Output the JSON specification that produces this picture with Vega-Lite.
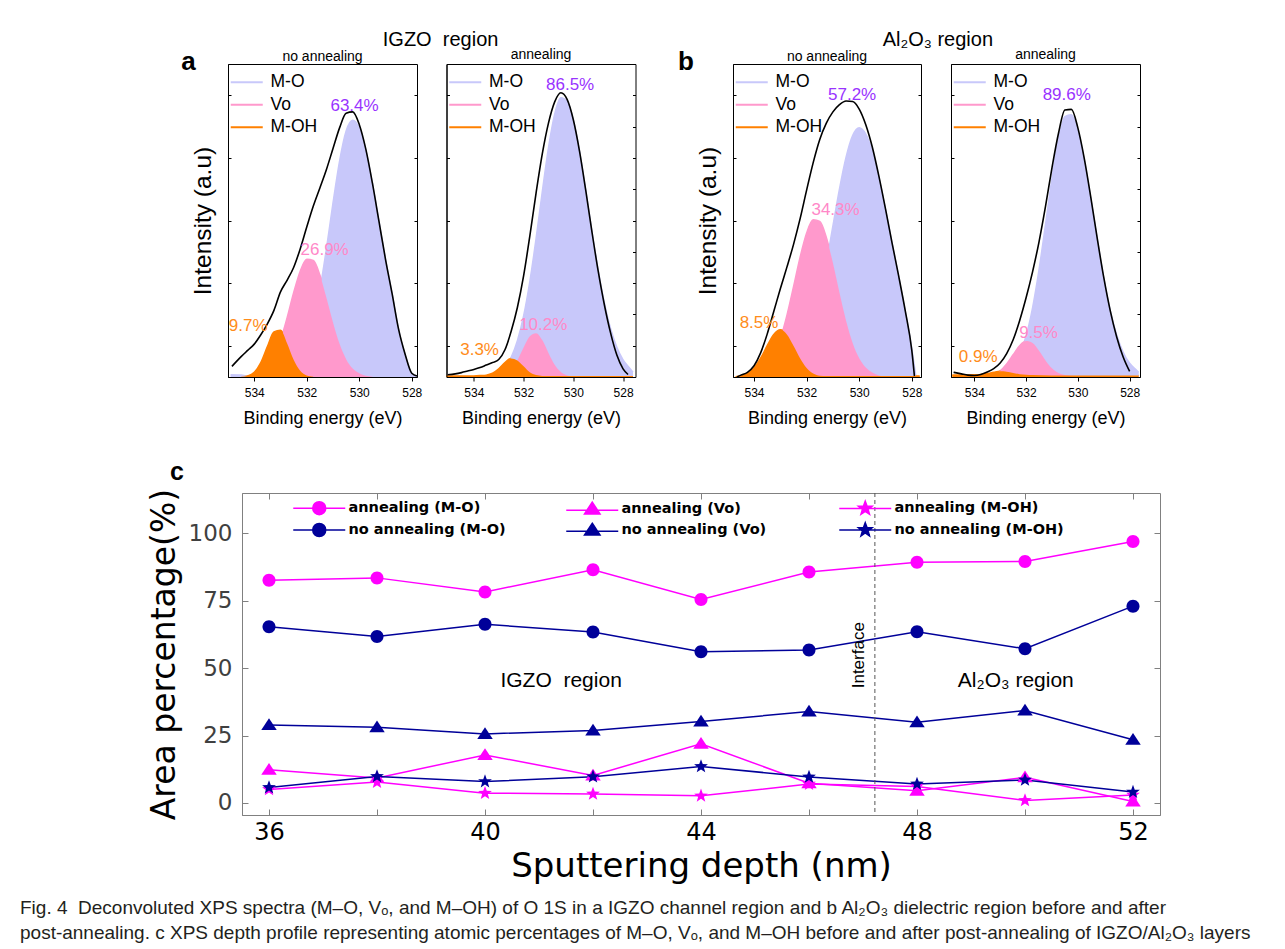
{
"$schema": "https://vega.github.io/schema/vega-lite/v6.json",
"background": "white",
"padding": {"left": 20, "top": 29, "right": 5, "bottom": 5},
"config": {"font": "Liberation Sans", "view": {"stroke": "black", "strokeWidth": 1}, "axis": {"grid": false, "labelFlush": false, "labelOverlap": false}, "title": {"font": "Liberation Sans", "fontWeight": "normal", "color": "black"}, "legend": {"labelColor": "black"}},
"datasets": {
"spec": [
{"p":"a1","c":"M-O","e":534.9,"i":0.7},{"p":"a1","c":"M-O","e":534.5,"i":0.6},{"p":"a1","c":"M-O","e":534.25,"i":0.3},{"p":"a1","c":"M-O","e":534,"i":0.1},{"p":"a1","c":"M-O","e":533.75,"i":0.05},{"p":"a1","c":"M-O","e":533.5,"i":0.1},{"p":"a1","c":"M-O","e":533,"i":0.4},{"p":"a1","c":"M-O","e":532.75,"i":1.1},{"p":"a1","c":"M-O","e":532.5,"i":2.5},{"p":"a1","c":"M-O","e":532.25,"i":5.1},{"p":"a1","c":"M-O","e":532,"i":9.8},{"p":"a1","c":"M-O","e":531.75,"i":17.3},{"p":"a1","c":"M-O","e":531.5,"i":27.8},{"p":"a1","c":"M-O","e":531.25,"i":41},{"p":"a1","c":"M-O","e":531,"i":55.6},{"p":"a1","c":"M-O","e":530.75,"i":69},{"p":"a1","c":"M-O","e":530.5,"i":78.6},{"p":"a1","c":"M-O","e":530.25,"i":82},{"p":"a1","c":"M-O","e":530,"i":79.5},{"p":"a1","c":"M-O","e":529.75,"i":72.4},{"p":"a1","c":"M-O","e":529.5,"i":61.9},{"p":"a1","c":"M-O","e":529.25,"i":49.7},{"p":"a1","c":"M-O","e":529,"i":37.5},{"p":"a1","c":"M-O","e":528.75,"i":26.6},{"p":"a1","c":"M-O","e":528.5,"i":15},{"p":"a1","c":"M-O","e":528.25,"i":7},{"p":"a1","c":"M-O","e":528,"i":1},{"p":"a1","c":"M-O","e":527.8,"i":0.3},
{"p":"a1","c":"Vo","e":534.25,"i":0.2},{"p":"a1","c":"Vo","e":534,"i":0.5},{"p":"a1","c":"Vo","e":533.75,"i":1.4},{"p":"a1","c":"Vo","e":533.5,"i":3.2},{"p":"a1","c":"Vo","e":533.25,"i":6.6},{"p":"a1","c":"Vo","e":533,"i":11.8},{"p":"a1","c":"Vo","e":532.75,"i":18.9},{"p":"a1","c":"Vo","e":532.5,"i":26.9},{"p":"a1","c":"Vo","e":532.25,"i":33.8},{"p":"a1","c":"Vo","e":532,"i":37.6},{"p":"a1","c":"Vo","e":531.75,"i":37.2},{"p":"a1","c":"Vo","e":531.5,"i":32.6},{"p":"a1","c":"Vo","e":531.25,"i":25.3},{"p":"a1","c":"Vo","e":531,"i":17.4},{"p":"a1","c":"Vo","e":530.75,"i":10.6},{"p":"a1","c":"Vo","e":530.5,"i":5.7},{"p":"a1","c":"Vo","e":530.25,"i":2.7},{"p":"a1","c":"Vo","e":530,"i":1.2},{"p":"a1","c":"Vo","e":529.75,"i":0.4},{"p":"a1","c":"Vo","e":529.5,"i":0.1},
{"p":"a1","c":"M-OH","e":534.5,"i":0.06},{"p":"a1","c":"M-OH","e":534.25,"i":0.36},{"p":"a1","c":"M-OH","e":534,"i":1.5},{"p":"a1","c":"M-OH","e":533.75,"i":4.6},{"p":"a1","c":"M-OH","e":533.5,"i":9.7},{"p":"a1","c":"M-OH","e":533.25,"i":14.4},{"p":"a1","c":"M-OH","e":533,"i":14.9},{"p":"a1","c":"M-OH","e":532.75,"i":10.8},{"p":"a1","c":"M-OH","e":532.5,"i":5.5},{"p":"a1","c":"M-OH","e":532.25,"i":2},{"p":"a1","c":"M-OH","e":532,"i":0.5},{"p":"a1","c":"M-OH","e":531.75,"i":0.1},
{"p":"a1","c":"env","e":534.85,"i":3.4},{"p":"a1","c":"env","e":534.5,"i":6.5},{"p":"a1","c":"env","e":534.25,"i":8.5},{"p":"a1","c":"env","e":534,"i":10.5},{"p":"a1","c":"env","e":533.75,"i":13.5},{"p":"a1","c":"env","e":533.5,"i":17},{"p":"a1","c":"env","e":533.25,"i":21.3},{"p":"a1","c":"env","e":533,"i":27.2},{"p":"a1","c":"env","e":532.75,"i":30.9},{"p":"a1","c":"env","e":532.5,"i":35},{"p":"a1","c":"env","e":532.25,"i":40.9},{"p":"a1","c":"env","e":532,"i":47.9},{"p":"a1","c":"env","e":531.75,"i":54.6},{"p":"a1","c":"env","e":531.5,"i":60.4},{"p":"a1","c":"env","e":531.25,"i":66.3},{"p":"a1","c":"env","e":531,"i":73},{"p":"a1","c":"env","e":530.75,"i":79.6},{"p":"a1","c":"env","e":530.5,"i":84.3},{"p":"a1","c":"env","e":530.25,"i":84.7},{"p":"a1","c":"env","e":530,"i":80.7},{"p":"a1","c":"env","e":529.75,"i":72.8},{"p":"a1","c":"env","e":529.5,"i":62},{"p":"a1","c":"env","e":529.25,"i":49.8},{"p":"a1","c":"env","e":529,"i":37.6},{"p":"a1","c":"env","e":528.75,"i":26.7},{"p":"a1","c":"env","e":528.5,"i":15.2},{"p":"a1","c":"env","e":528.25,"i":7.2},{"p":"a1","c":"env","e":528,"i":1.2},{"p":"a1","c":"env","e":527.8,"i":0.3},
{"p":"a2","c":"M-O","e":534,"i":0.05},{"p":"a2","c":"M-O","e":533.5,"i":0.3},{"p":"a2","c":"M-O","e":533,"i":1.5},{"p":"a2","c":"M-O","e":532.75,"i":3.2},{"p":"a2","c":"M-O","e":532.5,"i":6.3},{"p":"a2","c":"M-O","e":532.25,"i":11.6},{"p":"a2","c":"M-O","e":532,"i":19.5},{"p":"a2","c":"M-O","e":531.75,"i":30.5},{"p":"a2","c":"M-O","e":531.5,"i":44.1},{"p":"a2","c":"M-O","e":531.25,"i":59.1},{"p":"a2","c":"M-O","e":531,"i":73.2},{"p":"a2","c":"M-O","e":530.75,"i":84},{"p":"a2","c":"M-O","e":530.5,"i":89.2},{"p":"a2","c":"M-O","e":530.25,"i":88.1},{"p":"a2","c":"M-O","e":530,"i":82},{"p":"a2","c":"M-O","e":529.75,"i":72},{"p":"a2","c":"M-O","e":529.5,"i":59.5},{"p":"a2","c":"M-O","e":529.25,"i":46.4},{"p":"a2","c":"M-O","e":529,"i":34.1},{"p":"a2","c":"M-O","e":528.75,"i":23.7},{"p":"a2","c":"M-O","e":528.5,"i":15.4},{"p":"a2","c":"M-O","e":528.25,"i":9.5},{"p":"a2","c":"M-O","e":528,"i":5.5},{"p":"a2","c":"M-O","e":527.75,"i":3},{"p":"a2","c":"M-O","e":527.6,"i":1.5},
{"p":"a2","c":"Vo","e":533,"i":0.2},{"p":"a2","c":"Vo","e":532.75,"i":0.8},{"p":"a2","c":"Vo","e":532.5,"i":2.3},{"p":"a2","c":"Vo","e":532.25,"i":5.3},{"p":"a2","c":"Vo","e":532,"i":9.4},{"p":"a2","c":"Vo","e":531.75,"i":13},{"p":"a2","c":"Vo","e":531.5,"i":14},{"p":"a2","c":"Vo","e":531.25,"i":11.8},{"p":"a2","c":"Vo","e":531,"i":7.7},{"p":"a2","c":"Vo","e":530.75,"i":3.9},{"p":"a2","c":"Vo","e":530.5,"i":1.6},{"p":"a2","c":"Vo","e":530.25,"i":0.5},{"p":"a2","c":"Vo","e":530,"i":0.1},
{"p":"a2","c":"M-OH","e":535.1,"i":0.3},{"p":"a2","c":"M-OH","e":534.5,"i":0.3},{"p":"a2","c":"M-OH","e":534,"i":0.35},{"p":"a2","c":"M-OH","e":533.75,"i":0.45},{"p":"a2","c":"M-OH","e":533.5,"i":0.6},{"p":"a2","c":"M-OH","e":533.25,"i":1.2},{"p":"a2","c":"M-OH","e":533,"i":2.6},{"p":"a2","c":"M-OH","e":532.75,"i":4.6},{"p":"a2","c":"M-OH","e":532.5,"i":5.95},{"p":"a2","c":"M-OH","e":532.25,"i":5.3},{"p":"a2","c":"M-OH","e":532,"i":3.4},{"p":"a2","c":"M-OH","e":531.75,"i":1.5},{"p":"a2","c":"M-OH","e":531.5,"i":0.6},{"p":"a2","c":"M-OH","e":531.25,"i":0.35},{"p":"a2","c":"M-OH","e":531,"i":0.3},{"p":"a2","c":"M-OH","e":530,"i":0.3},{"p":"a2","c":"M-OH","e":529,"i":0.3},{"p":"a2","c":"M-OH","e":528,"i":0.3},{"p":"a2","c":"M-OH","e":527.6,"i":0.3},
{"p":"a2","c":"env","e":535.05,"i":0.7},{"p":"a2","c":"env","e":534.75,"i":1},{"p":"a2","c":"env","e":534.5,"i":1.4},{"p":"a2","c":"env","e":534.25,"i":1.9},{"p":"a2","c":"env","e":534,"i":2.4},{"p":"a2","c":"env","e":533.75,"i":3},{"p":"a2","c":"env","e":533.5,"i":3.8},{"p":"a2","c":"env","e":533.25,"i":4.6},{"p":"a2","c":"env","e":533,"i":5.6},{"p":"a2","c":"env","e":532.75,"i":8.7},{"p":"a2","c":"env","e":532.5,"i":14.6},{"p":"a2","c":"env","e":532.25,"i":22.2},{"p":"a2","c":"env","e":532,"i":32.3},{"p":"a2","c":"env","e":531.75,"i":45},{"p":"a2","c":"env","e":531.5,"i":58.7},{"p":"a2","c":"env","e":531.25,"i":71.2},{"p":"a2","c":"env","e":531,"i":81.1},{"p":"a2","c":"env","e":530.75,"i":87.9},{"p":"a2","c":"env","e":530.5,"i":90.8},{"p":"a2","c":"env","e":530.25,"i":88.7},{"p":"a2","c":"env","e":530,"i":82.2},{"p":"a2","c":"env","e":529.75,"i":72.1},{"p":"a2","c":"env","e":529.5,"i":59.6},{"p":"a2","c":"env","e":529.25,"i":46.3},{"p":"a2","c":"env","e":529,"i":33.8},{"p":"a2","c":"env","e":528.75,"i":23},{"p":"a2","c":"env","e":528.5,"i":14},{"p":"a2","c":"env","e":528.25,"i":7},{"p":"a2","c":"env","e":528,"i":2.6},{"p":"a2","c":"env","e":527.8,"i":0.8},
{"p":"b1","c":"M-O","e":533.75,"i":0.05},{"p":"b1","c":"M-O","e":533.5,"i":0.2},{"p":"b1","c":"M-O","e":533,"i":0.9},{"p":"b1","c":"M-O","e":532.75,"i":1.8},{"p":"b1","c":"M-O","e":532.5,"i":3.5},{"p":"b1","c":"M-O","e":532.25,"i":6.3},{"p":"b1","c":"M-O","e":532,"i":10.8},{"p":"b1","c":"M-O","e":531.75,"i":17.2},{"p":"b1","c":"M-O","e":531.5,"i":25.8},{"p":"b1","c":"M-O","e":531.25,"i":36.4},{"p":"b1","c":"M-O","e":531,"i":48.3},{"p":"b1","c":"M-O","e":530.75,"i":60.1},{"p":"b1","c":"M-O","e":530.5,"i":70.2},{"p":"b1","c":"M-O","e":530.25,"i":77.1},{"p":"b1","c":"M-O","e":530,"i":79.6},{"p":"b1","c":"M-O","e":529.75,"i":77.6},{"p":"b1","c":"M-O","e":529.5,"i":72},{"p":"b1","c":"M-O","e":529.25,"i":63.6},{"p":"b1","c":"M-O","e":529,"i":53.5},{"p":"b1","c":"M-O","e":528.75,"i":42.7},{"p":"b1","c":"M-O","e":528.5,"i":32},{"p":"b1","c":"M-O","e":528.25,"i":21},{"p":"b1","c":"M-O","e":528,"i":9},{"p":"b1","c":"M-O","e":527.85,"i":0.5},
{"p":"b1","c":"Vo","e":534.5,"i":0.1},{"p":"b1","c":"Vo","e":534.25,"i":0.3},{"p":"b1","c":"Vo","e":534,"i":0.7},{"p":"b1","c":"Vo","e":533.75,"i":1.6},{"p":"b1","c":"Vo","e":533.5,"i":3.5},{"p":"b1","c":"Vo","e":533.25,"i":6.8},{"p":"b1","c":"Vo","e":533,"i":12.2},{"p":"b1","c":"Vo","e":532.75,"i":19.7},{"p":"b1","c":"Vo","e":532.5,"i":28.8},{"p":"b1","c":"Vo","e":532.25,"i":38.2},{"p":"b1","c":"Vo","e":532,"i":46},{"p":"b1","c":"Vo","e":531.75,"i":50.2},{"p":"b1","c":"Vo","e":531.5,"i":49.7},{"p":"b1","c":"Vo","e":531.25,"i":44.6},{"p":"b1","c":"Vo","e":531,"i":36.4},{"p":"b1","c":"Vo","e":530.75,"i":26.9},{"p":"b1","c":"Vo","e":530.5,"i":18},{"p":"b1","c":"Vo","e":530.25,"i":10.9},{"p":"b1","c":"Vo","e":530,"i":6},{"p":"b1","c":"Vo","e":529.75,"i":3},{"p":"b1","c":"Vo","e":529.5,"i":1.4},{"p":"b1","c":"Vo","e":529.25,"i":0.5},{"p":"b1","c":"Vo","e":529,"i":0.2},
{"p":"b1","c":"M-OH","e":534.7,"i":0.05},{"p":"b1","c":"M-OH","e":534.5,"i":0.4},{"p":"b1","c":"M-OH","e":534.25,"i":1.1},{"p":"b1","c":"M-OH","e":534,"i":2.9},{"p":"b1","c":"M-OH","e":533.75,"i":6},{"p":"b1","c":"M-OH","e":533.5,"i":10},{"p":"b1","c":"M-OH","e":533.25,"i":13.6},{"p":"b1","c":"M-OH","e":533,"i":15.1},{"p":"b1","c":"M-OH","e":532.75,"i":13.6},{"p":"b1","c":"M-OH","e":532.5,"i":10},{"p":"b1","c":"M-OH","e":532.25,"i":6},{"p":"b1","c":"M-OH","e":532,"i":2.9},{"p":"b1","c":"M-OH","e":531.75,"i":1.1},{"p":"b1","c":"M-OH","e":531.5,"i":0.4},{"p":"b1","c":"M-OH","e":531.25,"i":0.3},{"p":"b1","c":"M-OH","e":530,"i":0.3},{"p":"b1","c":"M-OH","e":529,"i":0.3},{"p":"b1","c":"M-OH","e":528,"i":0.3},{"p":"b1","c":"M-OH","e":527.7,"i":0.3},
{"p":"b1","c":"env","e":534.65,"i":0},{"p":"b1","c":"env","e":534.5,"i":0.6},{"p":"b1","c":"env","e":534.25,"i":1.5},{"p":"b1","c":"env","e":534,"i":3.6},{"p":"b1","c":"env","e":533.75,"i":7.7},{"p":"b1","c":"env","e":533.5,"i":13.7},{"p":"b1","c":"env","e":533.25,"i":20.9},{"p":"b1","c":"env","e":533,"i":28.2},{"p":"b1","c":"env","e":532.75,"i":35.1},{"p":"b1","c":"env","e":532.5,"i":42.3},{"p":"b1","c":"env","e":532.25,"i":50.5},{"p":"b1","c":"env","e":532,"i":59.7},{"p":"b1","c":"env","e":531.75,"i":68.5},{"p":"b1","c":"env","e":531.5,"i":75.9},{"p":"b1","c":"env","e":531.25,"i":81.1},{"p":"b1","c":"env","e":531,"i":84.7},{"p":"b1","c":"env","e":530.75,"i":87},{"p":"b1","c":"env","e":530.5,"i":88.2},{"p":"b1","c":"env","e":530.25,"i":88},{"p":"b1","c":"env","e":530,"i":85.6},{"p":"b1","c":"env","e":529.75,"i":80.6},{"p":"b1","c":"env","e":529.5,"i":73.4},{"p":"b1","c":"env","e":529.25,"i":64.1},{"p":"b1","c":"env","e":529,"i":53.7},{"p":"b1","c":"env","e":528.75,"i":42.8},{"p":"b1","c":"env","e":528.5,"i":32.3},{"p":"b1","c":"env","e":528.25,"i":21.2},{"p":"b1","c":"env","e":528,"i":8.5},{"p":"b1","c":"env","e":527.9,"i":0.3},
{"p":"b2","c":"M-O","e":533.5,"i":0.1},{"p":"b2","c":"M-O","e":533,"i":0.7},{"p":"b2","c":"M-O","e":532.75,"i":1.6},{"p":"b2","c":"M-O","e":532.5,"i":3.5},{"p":"b2","c":"M-O","e":532.25,"i":7.1},{"p":"b2","c":"M-O","e":532,"i":13.1},{"p":"b2","c":"M-O","e":531.75,"i":22.1},{"p":"b2","c":"M-O","e":531.5,"i":34.3},{"p":"b2","c":"M-O","e":531.25,"i":48.7},{"p":"b2","c":"M-O","e":531,"i":63.5},{"p":"b2","c":"M-O","e":530.75,"i":75.9},{"p":"b2","c":"M-O","e":530.5,"i":83.2},{"p":"b2","c":"M-O","e":530.25,"i":83.8},{"p":"b2","c":"M-O","e":530,"i":78.7},{"p":"b2","c":"M-O","e":529.75,"i":69.1},{"p":"b2","c":"M-O","e":529.5,"i":56.9},{"p":"b2","c":"M-O","e":529.25,"i":43.8},{"p":"b2","c":"M-O","e":529,"i":31.5},{"p":"b2","c":"M-O","e":528.75,"i":21.2},{"p":"b2","c":"M-O","e":528.5,"i":13.4},{"p":"b2","c":"M-O","e":528.25,"i":7.9},{"p":"b2","c":"M-O","e":528,"i":4.4},{"p":"b2","c":"M-O","e":527.75,"i":2.3},{"p":"b2","c":"M-O","e":527.65,"i":1.5},
{"p":"b2","c":"Vo","e":534.5,"i":0.3},{"p":"b2","c":"Vo","e":534,"i":0.3},{"p":"b2","c":"Vo","e":533.5,"i":0.4},{"p":"b2","c":"Vo","e":533.25,"i":0.9},{"p":"b2","c":"Vo","e":533,"i":2},{"p":"b2","c":"Vo","e":532.75,"i":4.2},{"p":"b2","c":"Vo","e":532.5,"i":7.1},{"p":"b2","c":"Vo","e":532.25,"i":10},{"p":"b2","c":"Vo","e":532,"i":11.5},{"p":"b2","c":"Vo","e":531.75,"i":10.9},{"p":"b2","c":"Vo","e":531.5,"i":8.4},{"p":"b2","c":"Vo","e":531.25,"i":5.3},{"p":"b2","c":"Vo","e":531,"i":2.8},{"p":"b2","c":"Vo","e":530.75,"i":1.3},{"p":"b2","c":"Vo","e":530.5,"i":0.6},{"p":"b2","c":"Vo","e":530.25,"i":0.4},{"p":"b2","c":"Vo","e":530,"i":0.3},{"p":"b2","c":"Vo","e":529,"i":0.3},{"p":"b2","c":"Vo","e":528.5,"i":0.3},
{"p":"b2","c":"M-OH","e":534.85,"i":0.6},{"p":"b2","c":"M-OH","e":534.5,"i":0.6},{"p":"b2","c":"M-OH","e":534,"i":0.7},{"p":"b2","c":"M-OH","e":533.75,"i":0.8},{"p":"b2","c":"M-OH","e":533.5,"i":1.1},{"p":"b2","c":"M-OH","e":533.25,"i":1.5},{"p":"b2","c":"M-OH","e":533,"i":1.8},{"p":"b2","c":"M-OH","e":532.75,"i":1.7},{"p":"b2","c":"M-OH","e":532.5,"i":1.3},{"p":"b2","c":"M-OH","e":532.25,"i":0.9},{"p":"b2","c":"M-OH","e":532,"i":0.7},{"p":"b2","c":"M-OH","e":531.75,"i":0.6},{"p":"b2","c":"M-OH","e":531,"i":0.5},{"p":"b2","c":"M-OH","e":530,"i":0.5},{"p":"b2","c":"M-OH","e":529,"i":0.5},{"p":"b2","c":"M-OH","e":528,"i":0.5},{"p":"b2","c":"M-OH","e":527.65,"i":0.5},
{"p":"b2","c":"env","e":534.8,"i":1.5},{"p":"b2","c":"env","e":534.5,"i":1},{"p":"b2","c":"env","e":534.25,"i":0.6},{"p":"b2","c":"env","e":534,"i":0.5},{"p":"b2","c":"env","e":533.75,"i":0.8},{"p":"b2","c":"env","e":533.5,"i":1.6},{"p":"b2","c":"env","e":533.25,"i":2.7},{"p":"b2","c":"env","e":533,"i":4.5},{"p":"b2","c":"env","e":532.75,"i":7.5},{"p":"b2","c":"env","e":532.5,"i":11.9},{"p":"b2","c":"env","e":532.25,"i":18},{"p":"b2","c":"env","e":532,"i":25.3},{"p":"b2","c":"env","e":531.75,"i":33.6},{"p":"b2","c":"env","e":531.5,"i":43.2},{"p":"b2","c":"env","e":531.25,"i":54.5},{"p":"b2","c":"env","e":531,"i":66.8},{"p":"b2","c":"env","e":530.75,"i":77.8},{"p":"b2","c":"env","e":530.5,"i":85.3},{"p":"b2","c":"env","e":530.25,"i":85.5},{"p":"b2","c":"env","e":530,"i":79.6},{"p":"b2","c":"env","e":529.75,"i":69.7},{"p":"b2","c":"env","e":529.5,"i":57.4},{"p":"b2","c":"env","e":529.25,"i":44.2},{"p":"b2","c":"env","e":529,"i":31.8},{"p":"b2","c":"env","e":528.75,"i":21.2},{"p":"b2","c":"env","e":528.5,"i":12.8},{"p":"b2","c":"env","e":528.25,"i":6.4},{"p":"b2","c":"env","e":528,"i":1.8}
],
"lab": [
{"p":"a1","c":"M-O","e":530.18,"i":86.7,"t":"63.4%"},{"p":"a1","c":"Vo","e":531.32,"i":40.7,"t":"26.9%"},{"p":"a1","c":"M-OH","e":534.23,"i":16.4,"t":"9.7%"},
{"p":"a2","c":"M-O","e":530.13,"i":93.4,"t":"86.5%"},{"p":"a2","c":"Vo","e":531.21,"i":16.7,"t":"10.2%"},{"p":"a2","c":"M-OH","e":533.77,"i":8.7,"t":"3.3%"},
{"p":"b1","c":"M-O","e":530.27,"i":90.2,"t":"57.2%"},{"p":"b1","c":"Vo","e":530.9,"i":53.5,"t":"34.3%"},{"p":"b1","c":"M-OH","e":533.81,"i":17.3,"t":"8.5%"},
{"p":"b2","c":"M-O","e":530.43,"i":90.2,"t":"89.6%"},{"p":"b2","c":"Vo","e":531.52,"i":14.1,"t":"9.5%"},{"p":"b2","c":"M-OH","e":533.85,"i":6.4,"t":"0.9%"}
],
"tags": [{"p":"a1","e":536.51,"i":98,"t":"a"},{"p":"b1","e":536.59,"i":98,"t":"b"}],
"depth": [
{"s":"annealing (M-O)","k":"M-O","d":36,"v":82.6},{"s":"annealing (M-O)","k":"M-O","d":38,"v":83.5},{"s":"annealing (M-O)","k":"M-O","d":40,"v":78.3},{"s":"annealing (M-O)","k":"M-O","d":42,"v":86.5},{"s":"annealing (M-O)","k":"M-O","d":44,"v":75.5},{"s":"annealing (M-O)","k":"M-O","d":46,"v":85.7},{"s":"annealing (M-O)","k":"M-O","d":48,"v":89.3},{"s":"annealing (M-O)","k":"M-O","d":50,"v":89.6},{"s":"annealing (M-O)","k":"M-O","d":52,"v":97},
{"s":"annealing (Vo)","k":"Vo","d":36,"v":12.3},{"s":"annealing (Vo)","k":"Vo","d":38,"v":9.2},{"s":"annealing (Vo)","k":"Vo","d":40,"v":17.8},{"s":"annealing (Vo)","k":"Vo","d":42,"v":10.2},{"s":"annealing (Vo)","k":"Vo","d":44,"v":21.9},{"s":"annealing (Vo)","k":"Vo","d":46,"v":7.3},{"s":"annealing (Vo)","k":"Vo","d":48,"v":4.5},{"s":"annealing (Vo)","k":"Vo","d":50,"v":9.5},{"s":"annealing (Vo)","k":"Vo","d":52,"v":0.5},
{"s":"annealing (M-OH)","k":"M-OH","d":36,"v":5},{"s":"annealing (M-OH)","k":"M-OH","d":38,"v":7.7},{"s":"annealing (M-OH)","k":"M-OH","d":40,"v":3.6},{"s":"annealing (M-OH)","k":"M-OH","d":42,"v":3.3},{"s":"annealing (M-OH)","k":"M-OH","d":44,"v":2.6},{"s":"annealing (M-OH)","k":"M-OH","d":46,"v":7},{"s":"annealing (M-OH)","k":"M-OH","d":48,"v":6.1},{"s":"annealing (M-OH)","k":"M-OH","d":50,"v":0.9},{"s":"annealing (M-OH)","k":"M-OH","d":52,"v":2.9},
{"s":"no annealing (M-O)","k":"M-O","d":36,"v":65.4},{"s":"no annealing (M-O)","k":"M-O","d":38,"v":61.7},{"s":"no annealing (M-O)","k":"M-O","d":40,"v":66.3},{"s":"no annealing (M-O)","k":"M-O","d":42,"v":63.4},{"s":"no annealing (M-O)","k":"M-O","d":44,"v":56.1},{"s":"no annealing (M-O)","k":"M-O","d":46,"v":56.7},{"s":"no annealing (M-O)","k":"M-O","d":48,"v":63.5},{"s":"no annealing (M-O)","k":"M-O","d":50,"v":57.2},{"s":"no annealing (M-O)","k":"M-O","d":52,"v":73},
{"s":"no annealing (Vo)","k":"Vo","d":36,"v":28.9},{"s":"no annealing (Vo)","k":"Vo","d":38,"v":28.1},{"s":"no annealing (Vo)","k":"Vo","d":40,"v":25.6},{"s":"no annealing (Vo)","k":"Vo","d":42,"v":26.9},{"s":"no annealing (Vo)","k":"Vo","d":44,"v":30.2},{"s":"no annealing (Vo)","k":"Vo","d":46,"v":33.9},{"s":"no annealing (Vo)","k":"Vo","d":48,"v":29.9},{"s":"no annealing (Vo)","k":"Vo","d":50,"v":34.3},{"s":"no annealing (Vo)","k":"Vo","d":52,"v":23.4},
{"s":"no annealing (M-OH)","k":"M-OH","d":36,"v":5.7},{"s":"no annealing (M-OH)","k":"M-OH","d":38,"v":9.8},{"s":"no annealing (M-OH)","k":"M-OH","d":40,"v":7.9},{"s":"no annealing (M-OH)","k":"M-OH","d":42,"v":9.7},{"s":"no annealing (M-OH)","k":"M-OH","d":44,"v":13.5},{"s":"no annealing (M-OH)","k":"M-OH","d":46,"v":9.6},{"s":"no annealing (M-OH)","k":"M-OH","d":48,"v":7},{"s":"no annealing (M-OH)","k":"M-OH","d":50,"v":8.5},{"s":"no annealing (M-OH)","k":"M-OH","d":52,"v":4}
]
},
"title": {"text": ["Fig. 4\u00a0 Deconvoluted XPS spectra (M–O, Vₒ, and M–OH) of O 1S in a IGZO channel region and b Al₂O₃ dielectric region before and after", "post-annealing. c XPS depth profile representing atomic percentages of M–O, Vₒ, and M–OH before and after post-annealing of IGZO/Al₂O₃ layers"], "orient": "bottom", "anchor": "start", "dx": -126, "offset": 15, "font": "Liberation Sans", "fontSize": 19, "fontWeight": "normal", "lineHeight": 25, "color": "#231f20"},
"spacing": 31,
"resolve": {"scale": {"stroke": "independent", "fill": "independent", "shape": "independent", "color": "independent"}, "legend": {"stroke": "independent", "fill": "independent", "shape": "independent", "color": "independent"}},
"vconcat": [
{"spacing": 0,
 "resolve": {"scale": {"stroke": "independent", "fill": "independent", "shape": "independent", "color": "independent"}, "legend": {"stroke": "independent", "fill": "independent", "shape": "independent", "color": "independent"}},
 "hconcat": [
  {"width": 34, "height": 1, "data": {"values": [{"a": 1}]}, "mark": {"type": "text", "text": ""}, "view": {"stroke": null}},
  {"spacing": 40,
   "resolve": {"scale": {"stroke": "independent", "fill": "independent", "shape": "independent", "color": "independent"}, "legend": {"stroke": "independent", "fill": "independent", "shape": "independent", "color": "independent"}},
   "hconcat": [
    {"title": {"text": "IGZO\u00a0\u00a0region", "anchor": "middle", "frame": "bounds", "dx": 32, "offset": -2, "fontSize": 20},
     "spacing": 19.5,
     "resolve": {"scale": {"stroke": "independent", "fill": "independent", "shape": "independent", "color": "independent"}, "legend": {"stroke": "independent", "fill": "independent", "shape": "independent", "color": "independent"}},
     "hconcat": [
      {"width": 189, "height": 313,
       "title": {"text": "no annealing", "anchor": "middle", "frame": "group", "offset": -15, "fontSize": 14},
       "layer": [
        {"data": {"name": "spec"},
         "layer": [
          {"transform": [{"filter": "datum.p == 'a1' && datum.c != 'env'"}], "mark": {"type": "line", "strokeWidth": 1.5, "interpolate": "monotone"},
           "encoding": {
            "x": {"field": "e", "type": "quantitative", "scale": {"domain": [527.8, 535], "reverse": true, "nice": false, "zero": false}, "axis": {"values": [528,529,530,531,532,533,534,535], "labelExpr": "datum.value % 2 == 0 ? datum.label : ''", "title": "Binding energy (eV)", "tickSize": 4, "tickColor": "black", "domainColor": "black", "labelPadding": 6, "labelFontSize": 12, "labelColor": "black", "titleFontSize": 18, "titleFontWeight": "normal", "titleColor": "black", "titlePadding": 11, "zindex": 1}},
            "y": {"field": "i", "type": "quantitative", "scale": {"domain": [0, 100], "nice": false, "zero": false}, "axis": {"values": [10,20,30,40,50,60,70,80,90], "labels": false, "tickSize": -3, "tickColor": "black", "domainColor": "black", "title": "Intensity (a.u)", "titleFontSize": 24.5, "titleFontWeight": "normal", "titleColor": "black", "titlePadding": 12, "zindex": 1}},
            "stroke": {"field": "c", "type": "nominal", "scale": {"domain": ["M-O", "Vo", "M-OH"], "range": ["#c8c8fa", "#ff99cc", "#ff8000"]}, "legend": {"orient": "none", "legendX": 10, "legendY": 9.5, "title": null, "symbolType": "M-3.2,0L3.2,0", "symbolSize": 100, "symbolStrokeWidth": 2, "labelFontSize": 17.5, "labelOffset": 15, "rowPadding": 3.5, "padding": 0, "labelColor": "black"}}}},
          {"transform": [{"filter": "datum.p == 'a1' && datum.c == 'M-O'"}], "mark": {"type": "area", "interpolate": "monotone", "color": "#c8c8fa"}, "encoding": {"x": {"field": "e", "type": "quantitative"}, "y": {"field": "i", "type": "quantitative"}}},
          {"transform": [{"filter": "datum.p == 'a1' && datum.c == 'Vo'"}], "mark": {"type": "area", "interpolate": "monotone", "color": "#ff99cc"}, "encoding": {"x": {"field": "e", "type": "quantitative"}, "y": {"field": "i", "type": "quantitative"}}},
          {"transform": [{"filter": "datum.p == 'a1' && datum.c == 'M-OH'"}], "mark": {"type": "area", "interpolate": "monotone", "color": "#ff8000"}, "encoding": {"x": {"field": "e", "type": "quantitative"}, "y": {"field": "i", "type": "quantitative"}}},
          {"transform": [{"filter": "datum.p == 'a1' && datum.c == 'env'"}], "mark": {"type": "line", "interpolate": "monotone", "color": "black", "strokeWidth": 1.6}, "encoding": {"x": {"field": "e", "type": "quantitative"}, "y": {"field": "i", "type": "quantitative"}}}
         ]},
        {"layer": [
          {"data": {"name": "lab"}, "transform": [{"filter": "datum.p == 'a1'"}], "mark": {"type": "text", "fontSize": 17, "baseline": "middle"},
           "encoding": {"x": {"field": "e", "type": "quantitative"}, "y": {"field": "i", "type": "quantitative", "axis": {"orient": "right", "values": [10,20,30,40,50,60,70,80,90], "labels": false, "tickSize": -3, "tickColor": "black", "domain": false, "title": null}}, "text": {"field": "t"}, "color": {"field": "c", "type": "nominal", "scale": {"domain": ["M-O", "Vo", "M-OH"], "range": ["#9933ff", "#ff88c8", "#ff8c1a"]}, "legend": null}}},
          {"data": {"name": "tags"}, "transform": [{"filter": "datum.p == 'a1'"}], "mark": {"type": "text", "fontSize": 26, "fontWeight": "bold", "baseline": "alphabetic", "color": "black"},
           "encoding": {"x": {"field": "e", "type": "quantitative"}, "y": {"field": "i", "type": "quantitative"}, "text": {"field": "t"}}}
         ]}
       ],
       "resolve": {"axis": {"y": "independent"}}},
      {"width": 189, "height": 313,
       "title": {"text": "annealing", "anchor": "middle", "frame": "group", "offset": 2, "fontSize": 14},
       "layer": [
        {"data": {"name": "spec"},
         "layer": [
          {"transform": [{"filter": "datum.p == 'a2' && datum.c != 'env'"}], "mark": {"type": "line", "strokeWidth": 1.5, "interpolate": "monotone"},
           "encoding": {
            "x": {"field": "e", "type": "quantitative", "scale": {"domain": [527.5, 535.1], "reverse": true, "nice": false, "zero": false}, "axis": {"values": [528,529,530,531,532,533,534,535], "labelExpr": "datum.value % 2 == 0 ? datum.label : ''", "title": "Binding energy (eV)", "tickSize": 4, "tickColor": "black", "domainColor": "black", "labelPadding": 6, "labelFontSize": 12, "labelColor": "black", "titleFontSize": 18, "titleFontWeight": "normal", "titleColor": "black", "titlePadding": 11, "zindex": 1}},
            "y": {"field": "i", "type": "quantitative", "scale": {"domain": [0, 100], "nice": false, "zero": false}, "axis": {"values": [10,20,30,40,50,60,70,80,90], "labels": false, "tickSize": -3, "tickColor": "black", "domainColor": "black", "title": null, "zindex": 1}},
            "stroke": {"field": "c", "type": "nominal", "scale": {"domain": ["M-O", "Vo", "M-OH"], "range": ["#c8c8fa", "#ff99cc", "#ff8000"]}, "legend": {"orient": "none", "legendX": 10, "legendY": 9.5, "title": null, "symbolType": "M-3.2,0L3.2,0", "symbolSize": 100, "symbolStrokeWidth": 2, "labelFontSize": 17.5, "labelOffset": 15, "rowPadding": 3.5, "padding": 0, "labelColor": "black"}}}},
          {"transform": [{"filter": "datum.p == 'a2' && datum.c == 'M-O'"}], "mark": {"type": "area", "interpolate": "monotone", "color": "#c8c8fa"}, "encoding": {"x": {"field": "e", "type": "quantitative"}, "y": {"field": "i", "type": "quantitative"}}},
          {"transform": [{"filter": "datum.p == 'a2' && datum.c == 'Vo'"}], "mark": {"type": "area", "interpolate": "monotone", "color": "#ff99cc"}, "encoding": {"x": {"field": "e", "type": "quantitative"}, "y": {"field": "i", "type": "quantitative"}}},
          {"transform": [{"filter": "datum.p == 'a2' && datum.c == 'M-OH'"}], "mark": {"type": "area", "interpolate": "monotone", "color": "#ff8000"}, "encoding": {"x": {"field": "e", "type": "quantitative"}, "y": {"field": "i", "type": "quantitative"}}},
          {"transform": [{"filter": "datum.p == 'a2' && datum.c == 'env'"}], "mark": {"type": "line", "interpolate": "monotone", "color": "black", "strokeWidth": 1.6}, "encoding": {"x": {"field": "e", "type": "quantitative"}, "y": {"field": "i", "type": "quantitative"}}}
         ]},
        {"layer": [
          {"data": {"name": "lab"}, "transform": [{"filter": "datum.p == 'a2'"}], "mark": {"type": "text", "fontSize": 17, "baseline": "middle"},
           "encoding": {"x": {"field": "e", "type": "quantitative"}, "y": {"field": "i", "type": "quantitative", "axis": {"orient": "right", "values": [10,20,30,40,50,60,70,80,90], "labels": false, "tickSize": -3, "tickColor": "black", "domain": false, "title": null}}, "text": {"field": "t"}, "color": {"field": "c", "type": "nominal", "scale": {"domain": ["M-O", "Vo", "M-OH"], "range": ["#9933ff", "#ff88c8", "#ff8c1a"]}, "legend": null}}}
         ]}
       ],
       "resolve": {"axis": {"y": "independent"}}}
     ]},
    {"title": {"text": "Al₂O₃ region", "anchor": "middle", "frame": "bounds", "dx": 28, "offset": -2, "fontSize": 20},
     "spacing": 24,
     "resolve": {"scale": {"stroke": "independent", "fill": "independent", "shape": "independent", "color": "independent"}, "legend": {"stroke": "independent", "fill": "independent", "shape": "independent", "color": "independent"}},
     "hconcat": [
      {"width": 188, "height": 313,
       "title": {"text": "no annealing", "anchor": "middle", "frame": "group", "offset": -15, "fontSize": 14},
       "layer": [
        {"data": {"name": "spec"},
         "layer": [
          {"transform": [{"filter": "datum.p == 'b1' && datum.c != 'env'"}], "mark": {"type": "line", "strokeWidth": 1.5, "interpolate": "monotone"},
           "encoding": {
            "x": {"field": "e", "type": "quantitative", "scale": {"domain": [527.65, 534.8], "reverse": true, "nice": false, "zero": false}, "axis": {"values": [528,529,530,531,532,533,534], "labelExpr": "datum.value % 2 == 0 ? datum.label : ''", "title": "Binding energy (eV)", "tickSize": 4, "tickColor": "black", "domainColor": "black", "labelPadding": 6, "labelFontSize": 12, "labelColor": "black", "titleFontSize": 18, "titleFontWeight": "normal", "titleColor": "black", "titlePadding": 11, "zindex": 1}},
            "y": {"field": "i", "type": "quantitative", "scale": {"domain": [0, 100], "nice": false, "zero": false}, "axis": {"values": [10,20,30,40,50,60,70,80,90], "labels": false, "tickSize": -3, "tickColor": "black", "domainColor": "black", "title": "Intensity (a.u)", "titleFontSize": 24.5, "titleFontWeight": "normal", "titleColor": "black", "titlePadding": 12, "zindex": 1}},
            "stroke": {"field": "c", "type": "nominal", "scale": {"domain": ["M-O", "Vo", "M-OH"], "range": ["#c8c8fa", "#ff99cc", "#ff8000"]}, "legend": {"orient": "none", "legendX": 10, "legendY": 9.5, "title": null, "symbolType": "M-3.2,0L3.2,0", "symbolSize": 100, "symbolStrokeWidth": 2, "labelFontSize": 17.5, "labelOffset": 15, "rowPadding": 3.5, "padding": 0, "labelColor": "black"}}}},
          {"transform": [{"filter": "datum.p == 'b1' && datum.c == 'M-O'"}], "mark": {"type": "area", "interpolate": "monotone", "color": "#c8c8fa"}, "encoding": {"x": {"field": "e", "type": "quantitative"}, "y": {"field": "i", "type": "quantitative"}}},
          {"transform": [{"filter": "datum.p == 'b1' && datum.c == 'Vo'"}], "mark": {"type": "area", "interpolate": "monotone", "color": "#ff99cc"}, "encoding": {"x": {"field": "e", "type": "quantitative"}, "y": {"field": "i", "type": "quantitative"}}},
          {"transform": [{"filter": "datum.p == 'b1' && datum.c == 'M-OH'"}], "mark": {"type": "area", "interpolate": "monotone", "color": "#ff8000"}, "encoding": {"x": {"field": "e", "type": "quantitative"}, "y": {"field": "i", "type": "quantitative"}}},
          {"transform": [{"filter": "datum.p == 'b1' && datum.c == 'env'"}], "mark": {"type": "line", "interpolate": "monotone", "color": "black", "strokeWidth": 1.6}, "encoding": {"x": {"field": "e", "type": "quantitative"}, "y": {"field": "i", "type": "quantitative"}}}
         ]},
        {"layer": [
          {"data": {"name": "lab"}, "transform": [{"filter": "datum.p == 'b1'"}], "mark": {"type": "text", "fontSize": 17, "baseline": "middle"},
           "encoding": {"x": {"field": "e", "type": "quantitative"}, "y": {"field": "i", "type": "quantitative", "axis": {"orient": "right", "values": [10,20,30,40,50,60,70,80,90], "labels": false, "tickSize": -3, "tickColor": "black", "domain": false, "title": null}}, "text": {"field": "t"}, "color": {"field": "c", "type": "nominal", "scale": {"domain": ["M-O", "Vo", "M-OH"], "range": ["#9933ff", "#ff88c8", "#ff8c1a"]}, "legend": null}}},
          {"data": {"name": "tags"}, "transform": [{"filter": "datum.p == 'b1'"}], "mark": {"type": "text", "fontSize": 26, "fontWeight": "bold", "baseline": "alphabetic", "color": "black"},
           "encoding": {"x": {"field": "e", "type": "quantitative"}, "y": {"field": "i", "type": "quantitative"}, "text": {"field": "t"}}}
         ]}
       ],
       "resolve": {"axis": {"y": "independent"}}},
      {"width": 189, "height": 313,
       "title": {"text": "annealing", "anchor": "middle", "frame": "group", "offset": 2, "fontSize": 14},
       "layer": [
        {"data": {"name": "spec"},
         "layer": [
          {"transform": [{"filter": "datum.p == 'b2' && datum.c != 'env'"}], "mark": {"type": "line", "strokeWidth": 1.5, "interpolate": "monotone"},
           "encoding": {
            "x": {"field": "e", "type": "quantitative", "scale": {"domain": [527.6, 534.9], "reverse": true, "nice": false, "zero": false}, "axis": {"values": [528,529,530,531,532,533,534], "labelExpr": "datum.value % 2 == 0 ? datum.label : ''", "title": "Binding energy (eV)", "tickSize": 4, "tickColor": "black", "domainColor": "black", "labelPadding": 6, "labelFontSize": 12, "labelColor": "black", "titleFontSize": 18, "titleFontWeight": "normal", "titleColor": "black", "titlePadding": 11, "zindex": 1}},
            "y": {"field": "i", "type": "quantitative", "scale": {"domain": [0, 100], "nice": false, "zero": false}, "axis": {"values": [10,20,30,40,50,60,70,80,90], "labels": false, "tickSize": -3, "tickColor": "black", "domainColor": "black", "title": null, "zindex": 1}},
            "stroke": {"field": "c", "type": "nominal", "scale": {"domain": ["M-O", "Vo", "M-OH"], "range": ["#c8c8fa", "#ff99cc", "#ff8000"]}, "legend": {"orient": "none", "legendX": 10, "legendY": 9.5, "title": null, "symbolType": "M-3.2,0L3.2,0", "symbolSize": 100, "symbolStrokeWidth": 2, "labelFontSize": 17.5, "labelOffset": 15, "rowPadding": 3.5, "padding": 0, "labelColor": "black"}}}},
          {"transform": [{"filter": "datum.p == 'b2' && datum.c == 'M-O'"}], "mark": {"type": "area", "interpolate": "monotone", "color": "#c8c8fa"}, "encoding": {"x": {"field": "e", "type": "quantitative"}, "y": {"field": "i", "type": "quantitative"}}},
          {"transform": [{"filter": "datum.p == 'b2' && datum.c == 'Vo'"}], "mark": {"type": "area", "interpolate": "monotone", "color": "#ff99cc"}, "encoding": {"x": {"field": "e", "type": "quantitative"}, "y": {"field": "i", "type": "quantitative"}}},
          {"transform": [{"filter": "datum.p == 'b2' && datum.c == 'M-OH'"}], "mark": {"type": "area", "interpolate": "monotone", "color": "#ff8000"}, "encoding": {"x": {"field": "e", "type": "quantitative"}, "y": {"field": "i", "type": "quantitative"}}},
          {"transform": [{"filter": "datum.p == 'b2' && datum.c == 'env'"}], "mark": {"type": "line", "interpolate": "monotone", "color": "black", "strokeWidth": 1.6}, "encoding": {"x": {"field": "e", "type": "quantitative"}, "y": {"field": "i", "type": "quantitative"}}}
         ]},
        {"layer": [
          {"data": {"name": "lab"}, "transform": [{"filter": "datum.p == 'b2'"}], "mark": {"type": "text", "fontSize": 17, "baseline": "middle"},
           "encoding": {"x": {"field": "e", "type": "quantitative"}, "y": {"field": "i", "type": "quantitative", "axis": {"orient": "right", "values": [10,20,30,40,50,60,70,80,90], "labels": false, "tickSize": -3, "tickColor": "black", "domain": false, "title": null}}, "text": {"field": "t"}, "color": {"field": "c", "type": "nominal", "scale": {"domain": ["M-O", "Vo", "M-OH"], "range": ["#9933ff", "#ff88c8", "#ff8c1a"]}, "legend": null}}}
         ]}
       ],
       "resolve": {"axis": {"y": "independent"}}}
     ]}
   ]}
 ]},
{"spacing": 0,
 "resolve": {"scale": {"stroke": "independent", "fill": "independent", "shape": "independent", "color": "independent"}, "legend": {"stroke": "independent", "fill": "independent", "shape": "independent", "color": "independent"}},
 "hconcat": [
  {"width": 1, "height": 1, "data": {"values": [{"a": 1}]}, "mark": {"type": "text", "text": ""}, "view": {"stroke": null}},
  {"width": 918, "height": 322,
   "view": {"stroke": "#808080"},
   "title": {"text": "c", "anchor": "start", "frame": "group", "dx": -72, "offset": 3, "fontSize": 25, "fontWeight": "bold"},
   "layer": [
    {"data": {"name": "depth"},
     "layer": [
      {"mark": {"type": "line", "strokeWidth": 1.5},
       "encoding": {
        "x": {"field": "d", "type": "quantitative", "scale": {"domain": [35.5, 52.5], "nice": false, "zero": false}, "axis": {"values": [36,38,40,42,44,46,48,50,52], "labelExpr": "datum.value % 4 == 0 ? datum.label : ''", "title": "Sputtering depth (nm)", "tickSize": -6, "tickColor": "#808080", "domainColor": "#808080", "labelPadding": 11, "labelFont": "DejaVu Sans", "labelFontSize": 24, "labelColor": "black", "titleFont": "DejaVu Sans", "titleFontSize": 34, "titleFontWeight": "normal", "titleColor": "black", "titlePadding": 5, "zindex": 1}},
        "y": {"field": "v", "type": "quantitative", "scale": {"domain": [-4.5, 115], "nice": false, "zero": false}, "axis": {"values": [0,12.5,25,37.5,50,62.5,75,87.5,100,112.5], "labelExpr": "datum.value % 25 == 0 ? datum.label : ''", "title": "Area percentage(%)", "tickSize": -6, "tickColor": "#808080", "domainColor": "#808080", "labelPadding": 16, "labelFont": "DejaVu Sans", "labelFontSize": 23, "labelColor": "#404040", "titleFont": "DejaVu Sans", "titleFontSize": 33, "titleFontWeight": "normal", "titleColor": "black", "titlePadding": 7, "zindex": 1}},
        "stroke": {"field": "s", "type": "nominal", "scale": {"domain": ["annealing (M-O)", "no annealing (M-O)", "annealing (Vo)", "no annealing (Vo)", "annealing (M-OH)", "no annealing (M-OH)"], "range": ["#ff00ff", "#000099", "#ff00ff", "#000099", "#ff00ff", "#000099"]}}}},
      {"transform": [{"filter": "datum.k == 'M-O'"}], "mark": {"type": "point", "filled": true, "opacity": 1, "size": 100, "strokeWidth": 0, "shape": "M-1.3,0A1.3,1.3,0,1,1,1.3,0A1.3,1.3,0,1,1,-1.3,0Z"},
       "encoding": {"x": {"field": "d", "type": "quantitative"}, "y": {"field": "v", "type": "quantitative"}, "fill": {"field": "s", "type": "nominal", "scale": {"domain": ["annealing (M-O)", "no annealing (M-O)", "annealing (Vo)", "no annealing (Vo)", "annealing (M-OH)", "no annealing (M-OH)"], "range": ["#ff00ff", "#000099", "#ff00ff", "#000099", "#ff00ff", "#000099"]}}}},
      {"transform": [{"filter": "datum.k == 'Vo'"}], "mark": {"type": "point", "filled": true, "opacity": 1, "size": 100, "strokeWidth": 0, "shape": "M0,-1.35L1.55,1L-1.55,1Z"},
       "encoding": {"x": {"field": "d", "type": "quantitative"}, "y": {"field": "v", "type": "quantitative"}, "fill": {"field": "s", "type": "nominal", "scale": {"domain": ["annealing (M-O)", "no annealing (M-O)", "annealing (Vo)", "no annealing (Vo)", "annealing (M-OH)", "no annealing (M-OH)"], "range": ["#ff00ff", "#000099", "#ff00ff", "#000099", "#ff00ff", "#000099"]}}}},
      {"transform": [{"filter": "datum.k == 'M-OH'"}], "mark": {"type": "point", "filled": true, "opacity": 1, "size": 100, "strokeWidth": 0, "shape": "M0,-1.45L0.353,-0.485L1.379,-0.448L0.571,0.185L0.853,1.173L0,0.6L-0.853,1.173L-0.571,0.185L-1.379,-0.448L-0.353,-0.485Z"},
       "encoding": {"x": {"field": "d", "type": "quantitative"}, "y": {"field": "v", "type": "quantitative"}, "fill": {"field": "s", "type": "nominal", "scale": {"domain": ["annealing (M-O)", "no annealing (M-O)", "annealing (Vo)", "no annealing (Vo)", "annealing (M-OH)", "no annealing (M-OH)"], "range": ["#ff00ff", "#000099", "#ff00ff", "#000099", "#ff00ff", "#000099"]}}}},
      {"transform": [{"filter": "false"}], "mark": {"type": "point", "filled": true, "opacity": 1},
       "encoding": {"x": {"field": "d", "type": "quantitative"}, "y": {"field": "v", "type": "quantitative"},
        "fill": {"field": "s", "type": "nominal", "scale": {"domain": ["annealing (M-O)", "no annealing (M-O)", "annealing (Vo)", "no annealing (Vo)", "annealing (M-OH)", "no annealing (M-OH)"], "range": ["#ff00ff", "#000099", "#ff00ff", "#000099", "#ff00ff", "#000099"]}, "legend": {"orient": "none", "legendX": 70, "legendY": 7.75, "title": null, "columns": 3, "gridAlign": "all", "columnPadding": 45, "rowPadding": 2, "symbolSize": 100, "symbolStrokeWidth": 1.5, "labelFont": "DejaVu Sans", "labelFontWeight": "bold", "labelFontSize": 14.5, "labelOffset": 22, "labelLimit": 300, "padding": 0, "labelColor": "black"}},
        "stroke": {"field": "s", "type": "nominal", "scale": {"domain": ["annealing (M-O)", "no annealing (M-O)", "annealing (Vo)", "no annealing (Vo)", "annealing (M-OH)", "no annealing (M-OH)"], "range": ["#ff00ff", "#000099", "#ff00ff", "#000099", "#ff00ff", "#000099"]}},
        "shape": {"field": "s", "type": "nominal", "scale": {"domain": ["annealing (M-O)", "no annealing (M-O)", "annealing (Vo)", "no annealing (Vo)", "annealing (M-OH)", "no annealing (M-OH)"], "range": ["M-5.2,0L5.2,0M-1.3,0A1.3,1.3,0,1,1,1.3,0A1.3,1.3,0,1,1,-1.3,0Z", "M-5.2,0L5.2,0M-1.3,0A1.3,1.3,0,1,1,1.3,0A1.3,1.3,0,1,1,-1.3,0Z", "M-5.2,0.25L5.2,0.25M0,-1.35L1.55,1L-1.55,1Z", "M-5.2,0.25L5.2,0.25M0,-1.35L1.55,1L-1.55,1Z", "M-5.2,0L5.2,0M0,-1.45L0.353,-0.485L1.379,-0.448L0.571,0.185L0.853,1.173L0,0.6L-0.853,1.173L-0.571,0.185L-1.379,-0.448L-0.353,-0.485Z", "M-5.2,0L5.2,0M0,-1.45L0.353,-0.485L1.379,-0.448L0.571,0.185L0.853,1.173L0,0.6L-0.853,1.173L-0.571,0.185L-1.379,-0.448L-0.353,-0.485Z"]}}}}
     ]},
    {"layer": [
      {"data": {"values": [{"x": 47.22}]}, "mark": {"type": "rule", "strokeDash": [4, 3], "color": "#555555", "strokeWidth": 1},
       "encoding": {"x": {"field": "x", "type": "quantitative", "scale": {"domain": [35.5, 52.5], "nice": false, "zero": false}, "axis": {"orient": "top", "values": [36,38,40,42,44,46,48,50,52], "labels": false, "title": null, "tickSize": -6, "tickColor": "#808080", "domain": false}}}},
      {"data": {"values": [{"x": 41.41, "y": 45.2, "t": "IGZO\u00a0\u00a0region"}, {"x": 49.83, "y": 45.2, "t": "Al₂O₃ region"}]}, "mark": {"type": "text", "fontSize": 21, "baseline": "middle", "color": "black"},
       "encoding": {"x": {"field": "x", "type": "quantitative"}, "y": {"field": "y", "type": "quantitative", "scale": {"domain": [-4.5, 115], "nice": false, "zero": false}, "axis": {"orient": "right", "values": [0,12.5,25,37.5,50,62.5,75,87.5,100,112.5], "labels": false, "title": null, "tickSize": -6, "tickColor": "#808080", "domain": false}}, "text": {"field": "t"}}},
      {"data": {"values": [{"x": 46.92, "y": 54.8, "t": "Interface"}]}, "mark": {"type": "text", "fontSize": 17, "angle": 270, "baseline": "middle", "color": "black"},
       "encoding": {"x": {"field": "x", "type": "quantitative"}, "y": {"field": "y", "type": "quantitative"}, "text": {"field": "t"}}}
     ]}
   ],
   "resolve": {"axis": {"x": "independent", "y": "independent"}}}
 ]}
]
}
